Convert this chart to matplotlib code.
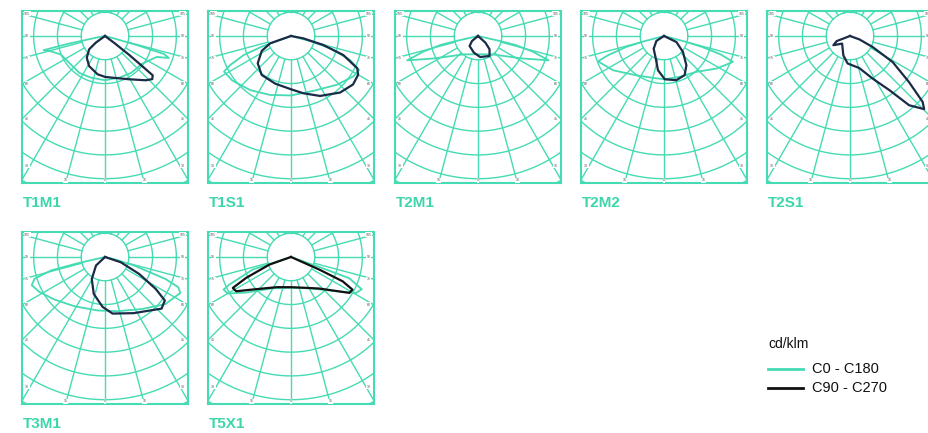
import numpy as np
import matplotlib.pyplot as plt
from matplotlib.lines import Line2D

plt.rcParams['font.family'] = ['Liberation Sans', 'DejaVu Sans']

GRID = "#45dbb3"
TEAL = "#3dd6ab"
NAVY = "#1b2b47"

names = ["T1M1", "T1S1", "T2M1", "T2M2", "T2S1", "T3M1", "T5X1"]

# gamma angle in degrees from nadir (negative = C180 / C270 side), intensity in cd/klm
t1m1_c0_g = [-89, -79, -78, -77, -74, -67, -53, -35, -19, 0, 19, 35, 53, 62, 68, 71, 73, 74, 75, 88]
t1m1_c0_i = [0, 40, 160, 265, 235, 201, 188, 189, 185, 186, 185, 190, 195, 215, 235, 284, 260, 150, 40, 0]
t1m1_c90_g = [-60, -54, -50, -40, -28, -11, 0, 10, 29, 42.6, 47.6, 50.5, 51, 52, 53, 60]
t1m1_c90_i = [0, 48, 87, 119, 143, 164, 172, 178, 208, 253, 269, 260, 200, 127, 50, 0]

t1s1_c0_g = [-80, -70, -68, -64.5, -62, -53, -37, -19.5, 0, 22, 43, 57, 63.5, 68, 72.5, 75, 85]
t1s1_c0_i = [0, 131, 215, 283, 319, 310, 285, 263, 250, 249, 281, 312, 320, 267, 172, 82, 0]
t1s1_c90_g = [-85, -70.6, -63, -50.6, -37, -18.5, 0, 12, 25.8, 41, 52, 60, 64, 70, 74.4, 79, 88]
t1s1_c90_i = [0, 93, 138, 181, 205, 211, 224, 246, 280, 315, 331, 326, 310, 234, 141, 53, 0]

t2m1_c0_g = [-85, -77, -76.5, -74, -71, -63, -53.8, -38, 0, 38, 53.8, 63, 71, 74, 76.5, 77, 85]
t2m1_c0_i = [0, 100, 162, 240, 315, 208, 144, 98, 77, 98, 144, 208, 314, 240, 162, 100, 0]
t2m1_c90_g = [-70, -50, -40, -14, 6, 30, 41, 48, 60]
t2m1_c90_i = [0, 33, 55, 72, 89, 97, 74, 42, 0]

t2m2_c0_g = [-85, -75, -73.8, -71, -69, -56, -35, -14.7, 0, 21, 42, 58, 69.4, 72, 74, 75, 85]
t2m2_c0_i = [0, 90, 165, 250, 297, 258, 202, 182, 182, 184, 203, 259, 310, 250, 165, 90, 0]
t2m2_c90_g = [-75, -57, -39, -20, -10, 1, 15.6, 27.8, 37.4, 50, 64, 80]
t2m2_c90_i = [0, 38, 69, 101, 146, 182, 193, 186, 155, 104, 58, 0]

t2s1_c0_g = None
t2s1_c0_i = None
t2s1_c90_g = [-80, -69, -61, -46, -19, -5, 16, 28, 36, 40.5, 45.4, 47.8, 52, 58.6, 64, 70, 80]
t2s1_c90_i = [0, 60, 80, 46, 86, 116, 140, 203, 281, 383, 438, 412, 315, 210, 106, 42, 0]

t3m1_c0_g = [-85, -77, -76, -72.8, -69, -62, -50, -32, -7.8, 13, 35.7, 52, 64.5, 67.6, 70, 73.6, 76, 85]
t3m1_c0_i = [0, 120, 234, 310, 330, 313, 278, 244, 227, 234, 269, 322, 351, 333, 271, 128, 50, 0]
t3m1_c90_g = [-70, -46.5, -31, -17, -2.8, 7.6, 27, 47.6, 54, 57.8, 63.6, 71.5, 80]
t3m1_c90_i = [0, 52, 108, 162, 210, 240, 265, 322, 311, 252, 160, 70, 0]

t5x1_c0_g = [-80, -71.8, -65.9, -64.2, -60, -51.6, -30, 0, 30, 52.7, 61, 65.5, 70, 70.5, 78]
t5x1_c0_i = [0, 170, 284, 315, 307, 241, 152, 130, 152, 237, 312, 327, 260, 127, 0]
t5x1_c90_g = [-80, -70.6, -65, -62, -58, -49.6, -25, 0, 25, 41.8, 58.4, 62, 64.8, 66, 75]
t5x1_c90_i = [0, 96, 208, 277, 272, 211, 140, 127, 143, 178, 288, 293, 240, 130, 0]

c0_g = [t1m1_c0_g, t1s1_c0_g, t2m1_c0_g, t2m2_c0_g, t2s1_c0_g, t3m1_c0_g, t5x1_c0_g]
c0_i = [t1m1_c0_i, t1s1_c0_i, t2m1_c0_i, t2m2_c0_i, t2s1_c0_i, t3m1_c0_i, t5x1_c0_i]
c90_g = [t1m1_c90_g, t1s1_c90_g, t2m1_c90_g, t2m2_c90_g, t2s1_c90_g, t3m1_c90_g, t5x1_c90_g]
c90_i = [t1m1_c90_i, t1s1_c90_i, t2m1_c90_i, t2m2_c90_i, t2s1_c90_i, t3m1_c90_i, t5x1_c90_i]
dark_colors = [NAVY, NAVY, NAVY, NAVY, NAVY, NAVY, "#111111"]

ring = 100  # cd/klm between circles
W, H = 929, 433
lefts = [22, 208, 395, 581, 767, 22, 208]
tops = [11, 11, 11, 11, 11, 232, 232]
pw, ph = 166, 172
xr = 349
ytop, ybot = 105, -618


def polar_xy(g, i):
    g = np.radians(np.asarray(g, float))
    i = np.asarray(i, float)
    return i * np.sin(g), -i * np.cos(g)


fig = plt.figure(figsize=(W / 100, H / 100), dpi=100)

for k, name in enumerate(names):
    ax = fig.add_axes([lefts[k] / W, 1 - (tops[k] + ph) / H, pw / W, ph / H])
    ax.set_xlim(-xr, xr)
    ax.set_ylim(ybot, ytop)
    ax.set_xticks([])
    ax.set_yticks([])
    for s in ax.spines.values():
        s.set_color(GRID)
        s.set_linewidth(1.5)

    # polar grid
    for g in range(-180, 181, 15):
        x, y = polar_xy([g, g], [ring, 10 * ring])
        ax.plot(x, y, color=GRID, lw=1.0, zorder=1)
    t = np.linspace(0, 2 * np.pi, 361)
    for n in range(1, 10):
        ax.plot(n * ring * np.cos(t), n * ring * np.sin(t), color=GRID, lw=1.0, zorder=1)

    # angle labels
    for g in [105, 90, 75, 60, 45, 30]:
        yy = max(-xr * np.cos(np.radians(g)) / np.sin(np.radians(g)), -545)
        for side in [-1, 1]:
            ax.text(side * (xr - 22), yy, str(g), fontsize=2.5, color="#555555",
                    ha='center', va='center', zorder=3,
                    bbox=dict(fc='white', ec='none', pad=0.3))
    for g in [-15, 0, 15]:
        ax.text(-ybot * np.tan(np.radians(g)), ybot + 12, str(abs(g)), fontsize=2.5,
                color="#555555", ha='center', va='center', zorder=3,
                bbox=dict(fc='white', ec='none', pad=0.3))

    # curves
    if c0_g[k] is not None:
        x, y = polar_xy(c0_g[k], c0_i[k])
        ax.plot(x, y, color=GRID, lw=1.3, zorder=4, solid_joinstyle='round')
    x, y = polar_xy(c90_g[k], c90_i[k])
    ax.plot(x, y, color=dark_colors[k], lw=1.6, zorder=5, solid_joinstyle='round')

    fig.text((lefts[k] + 1) / W, 1 - (tops[k] + ph + 24) / H, name, fontsize=11,
             fontweight='bold', color=TEAL, va='baseline')

# legend
fig.text(768 / W, 1 - 344 / H, "cd/klm", fontsize=10, va='center', color="#111111")
fig.add_artist(Line2D([768 / W, 803 / W], [1 - 369 / H] * 2, color=GRID, lw=2))
fig.add_artist(Line2D([768 / W, 803 / W], [1 - 388 / H] * 2, color="#111111", lw=2))
fig.text(812 / W, 1 - 369 / H, "C0 - C180", fontsize=10.5, va='center', color="#111111")
fig.text(812 / W, 1 - 388 / H, "C90 - C270", fontsize=10.5, va='center', color="#111111")

fig.savefig("out.png", dpi=100)
